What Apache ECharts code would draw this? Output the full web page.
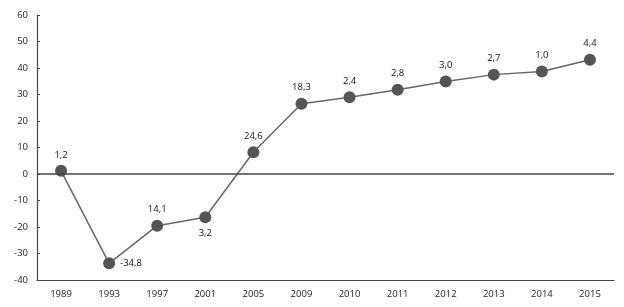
<!DOCTYPE html>
<html><head><meta charset="utf-8">
<script src="https://cdn.jsdelivr.net/npm/echarts@6/dist/echarts.min.js"></script>
<style>html,body{margin:0;padding:0;background:#fff}#c{width:624px;height:307px}</style>
</head><body><div id="c"></div>
<script>
const categories = ['1989','1993','1997','2001','2005','2009','2010','2011','2012','2013','2014','2015'];
const values = [1.2, -33.7, -19.5, -16.3, 8.2, 26.5, 29.0, 31.8, 34.9, 37.5, 38.7, 43.1];
const pointLabels = ['1,2','-34,8','14,1','3,2','24,6','18,3','2,4','2,8','3,0','2,7','1,0','4,4'];
const labelPositions = ['top','right','top','bottom','top','top','top','top','top','top','top','top'];
const yTicks = { min: -40, max: 60, interval: 10 };

const chart = echarts.init(document.getElementById('c'), null, {renderer:'canvas'});
const font = 'Open Sans';
chart.setOption({
  animation: false,
  grid: { left: 37, right: 10, top: 15, bottom: 27 },
  xAxis: {
    type: 'category', data: categories, boundaryGap: true,
    axisLine: { onZero: false, lineStyle: { color: '#444', width: 1.2 } },
    axisTick: { inside: true, alignWithLabel: true, length: 3, lineStyle: { color: '#444' } },
    axisLabel: { color: '#222', fontFamily: font, fontSize: 9.5, margin: 9 },
    splitLine: { show: false }
  },
  yAxis: {
    type: 'value', min: yTicks.min, max: yTicks.max, interval: yTicks.interval,
    axisLine: { show: true, lineStyle: { color: '#444', width: 1.2 } },
    axisTick: { show: true, inside: true, length: 3, lineStyle: { color: '#444' } },
    axisLabel: { color: '#222', fontFamily: font, fontSize: 9.5, margin: 9 },
    splitLine: { show: false }
  },
  series: [{
    type: 'line',
    data: values.map((v, i) => ({ value: v, label: { formatter: pointLabels[i], position: labelPositions[i] } })),
    symbol: 'circle', symbolSize: 12,
    lineStyle: { color: '#666', width: 1.5 },
    itemStyle: { color: '#555' },
    label: { show: true, color: '#111', fontFamily: font, fontSize: 9.5, distance: 5 },
    markLine: {
      silent: true, symbol: 'none', label: { show: false },
      lineStyle: { color: '#444', width: 1.5, type: 'solid' },
      data: [{ yAxis: 0 }]
    },
    z: 3
  }]
});
</script></body></html>
